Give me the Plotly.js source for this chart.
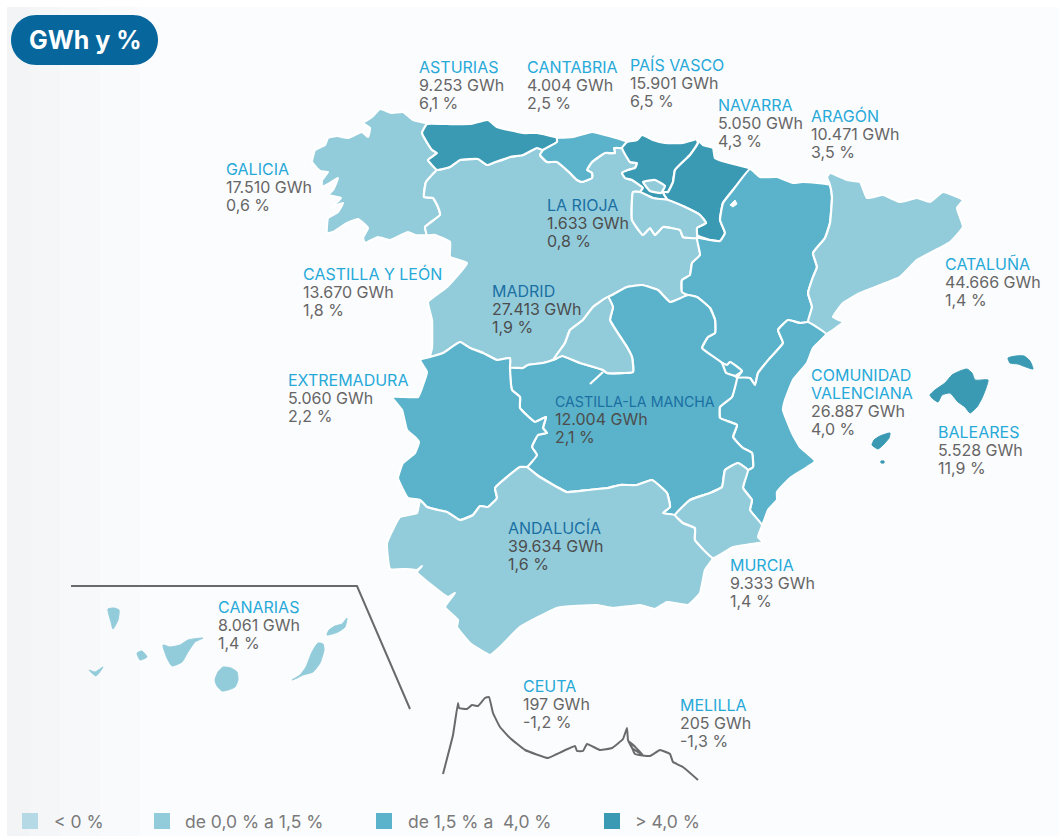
<!DOCTYPE html>
<html><head><meta charset="utf-8">
<script src="https://cdn.plot.ly/plotly-3.0.1.min.js"></script>
<style>html,body{margin:0;padding:0;background:#fff}</style></head>
<body><div id="chart" style="width:1059px;height:836px"></div>
<script>
const titleText = "GWh y %";
const regionNames = ["ASTURIAS","CANTABRIA","PAÍS VASCO","NAVARRA","ARAGÓN","GALICIA","LA RIOJA","CASTILLA Y LEÓN","MADRID","CATALUÑA","EXTREMADURA","COMUNIDAD<br>VALENCIANA","CASTILLA-LA MANCHA","BALEARES","ANDALUCÍA","MURCIA","CANARIAS","CEUTA","MELILLA"];
const gwhValues = ["9.253","4.004","15.901","5.050","10.471","17.510","1.633","13.670","27.413","44.666","5.060","26.887","12.004","5.528","39.634","9.333","8.061","197","205"];
const pctValues = ["6,1","2,5","6,5","4,3","3,5","0,6","0,8","1,8","1,9","1,4","2,2","4,0","2,1","11,9","1,6","1,4","1,4","-1,2","-1,3"];
const labelX = [418,526,629,717,810,225,546,302,491,944,287,810,554,937,507,729,217,522,679];
const labelY = [67,67,65,105,116,169,205,274,291,264,380,375,401,432,528,565,607,686,705];
const onMapLabel = [0,0,0,0,0,0,1,0,1,0,0,0,1,0,1,0,0,0,0];
const nameFontSizes = [16,16,16,16,16,16,16,16,16,16,16,16,14.2,16,16,16,16,16,16];
const legendLabels = ["< 0 %","de 0,0 % a 1,5 %","de 1,5 % a  4,0 %","> 4,0 %"];
const binColors = ["#b5d9e5","#92ccdb","#5ab3ca","#3a9ab3"];
const legendX = [30,162,384,612];
const legendTextX = [53,184,407,634];

const galicia = [[427,124],[413,120],[403,112],[392,113],[380,109],[372,117],[363,123],[370,128],[368,137],[362,132],[348,138],[337,136],[328,138],[325,145],[315,150],[312,162],[320,171],[328,172],[322,180],[322,187],[330,183],[338,178],[333,190],[328,195],[341,198],[332,207],[343,203],[338,212],[328,218],[327,233],[333,232],[347,223],[358,219],[368,228],[363,238],[365,243],[378,237],[390,240],[408,232],[415,235],[427,235],[425,227],[440,215],[438,207],[433,198],[424,197],[426,182],[437,170],[428,160],[437,153],[432,150],[422,133]];
const asturias = [[427,124],[447,124],[470,124],[488,120],[497,127],[523,133],[537,133],[557,138],[557,142],[543,150],[537,148],[523,155],[510,157],[493,163],[487,165],[478,159],[460,160],[450,167],[437,170],[428,160],[437,153],[432,150],[422,133]];
const cantabria = [[557,138],[573,137],[592,132],[605,135],[627,142],[622,148],[614,148],[615,153],[605,153],[592,162],[587,170],[592,173],[592,178],[582,182],[577,180],[570,173],[557,162],[547,162],[540,155],[543,150],[557,142]];
const castillaLeon = [[437,170],[450,167],[460,160],[478,159],[487,165],[493,163],[510,157],[523,155],[537,148],[543,150],[540,155],[547,162],[557,162],[570,173],[577,180],[582,182],[592,178],[592,173],[587,170],[592,162],[605,153],[615,153],[614,148],[622,148],[630,162],[637,163],[635,168],[628,170],[622,173],[625,178],[632,180],[643,188],[640,192],[633,192],[632,220],[643,235],[650,228],[655,235],[663,227],[680,230],[683,237],[697,238],[700,255],[692,263],[690,275],[682,280],[682,292],[688,295],[670,302],[658,290],[642,285],[627,287],[612,295],[608,297],[593,307],[583,320],[570,330],[565,343],[553,360],[543,363],[528,365],[523,368],[510,368],[510,358],[497,360],[483,353],[470,348],[460,342],[443,353],[430,357],[432,348],[432,320],[428,302],[447,287],[467,263],[450,257],[450,242],[435,235],[427,235],[425,227],[440,215],[438,207],[433,198],[424,197],[426,182]];
const paisVasco = [[627,142],[637,140],[642,135],[653,140],[665,143],[683,143],[697,139],[698,143],[690,155],[675,170],[673,182],[668,192],[663,192],[665,196],[668,200],[653,198],[640,192],[643,188],[632,180],[625,178],[622,173],[628,170],[635,168],[637,163],[630,162],[622,148]];
const trevino = [[643,182],[655,180],[665,186],[661,193],[650,191]];
const navarra = [[697,139],[703,145],[713,148],[715,158],[722,161],[750,169],[733,190],[723,203],[720,220],[725,233],[720,241],[710,240],[697,235],[697,228],[706,223],[700,215],[685,207],[668,200],[665,196],[663,192],[668,192],[673,182],[675,170],[690,155],[698,143]];
const rioja = [[633,192],[640,192],[653,198],[668,200],[685,207],[700,215],[706,223],[697,228],[697,238],[683,237],[680,230],[663,227],[655,235],[650,228],[643,235],[632,220]];
const aragon = [[750,169],[760,177],[777,177],[793,183],[803,182],[830,185],[832,197],[830,223],[825,238],[813,253],[817,267],[813,277],[808,293],[812,307],[808,322],[800,323],[788,320],[778,330],[783,343],[770,358],[758,373],[755,385],[750,378],[737,378],[742,371],[730,362],[727,365],[722,363],[702,348],[708,337],[715,333],[715,320],[710,308],[697,297],[688,295],[682,292],[682,280],[690,275],[692,263],[700,255],[697,238],[710,240],[720,241],[725,233],[720,220],[723,203],[733,190]];
const petilla = [[730,205],[735,200],[737,204],[733,207]];
const cataluna = [[830,185],[827,177],[830,173],[847,180],[860,182],[867,198],[883,195],[900,202],[917,198],[930,202],[943,192],[963,200],[957,208],[963,227],[950,242],[917,260],[900,277],[860,293],[843,303],[833,317],[843,322],[826,334],[808,322],[812,307],[808,293],[813,277],[817,267],[813,253],[825,238],[830,223],[832,197]];
const valencia = [[808,322],[826,334],[813,348],[807,363],[793,380],[785,400],[783,410],[792,433],[800,447],[815,461],[790,478],[777,492],[777,500],[768,510],[762,525],[750,510],[752,500],[743,488],[748,470],[753,467],[752,453],[743,448],[733,437],[737,425],[720,418],[720,407],[732,397],[737,378],[750,378],[755,385],[758,373],[770,358],[783,343],[778,330],[788,320],[800,323]];
const ademuz = [[722,363],[726,373],[735,376],[742,371],[730,362],[727,365]];
const madrid = [[608,297],[593,307],[583,320],[570,330],[565,343],[553,360],[562,356],[580,363],[603,370],[607,373],[633,372],[632,357],[627,347],[610,320],[613,307]];
const castillaMancha = [[510,368],[523,368],[528,365],[543,363],[553,360],[562,356],[580,363],[603,370],[607,373],[633,372],[632,357],[627,347],[610,320],[613,307],[608,297],[612,295],[627,287],[642,285],[658,290],[670,302],[688,295],[697,297],[710,308],[715,320],[715,333],[708,337],[702,348],[722,363],[726,373],[735,376],[737,378],[732,397],[720,407],[720,418],[737,425],[733,437],[743,448],[752,453],[753,467],[748,470],[738,463],[725,470],[722,487],[710,493],[690,500],[675,515],[663,513],[670,507],[667,493],[652,480],[637,485],[620,485],[608,488],[588,490],[567,492],[550,483],[537,475],[527,467],[537,455],[532,447],[538,435],[547,433],[543,428],[546,417],[535,422],[520,408],[520,397],[512,390]];
const toledoSpur = [[603,372],[590,384]];
const extremadura = [[510,358],[497,360],[483,353],[470,348],[460,342],[443,353],[430,357],[420,360],[427,372],[423,385],[418,397],[392,397],[402,410],[407,430],[415,437],[419,442],[415,453],[403,463],[398,478],[408,498],[420,500],[427,507],[438,510],[447,512],[460,520],[473,515],[480,506],[488,507],[497,498],[495,488],[507,477],[520,467],[527,467],[537,455],[532,447],[538,435],[547,433],[543,428],[546,417],[535,422],[520,408],[520,397],[512,390],[510,368]];
const murcia = [[748,470],[738,463],[725,470],[722,487],[710,493],[690,500],[675,515],[683,523],[695,528],[695,540],[713,558],[733,547],[763,542],[758,537],[762,525],[750,510],[752,500],[743,488]];
const andalucia = [[420,500],[417,513],[400,517],[387,543],[390,569],[407,569],[417,570],[422,566],[417,572],[448,597],[455,593],[445,607],[458,620],[457,627],[470,643],[490,655],[500,647],[520,627],[557,608],[597,605],[613,608],[640,605],[655,609],[667,602],[688,605],[700,593],[705,570],[713,558],[695,540],[695,528],[683,523],[675,515],[663,513],[670,507],[667,493],[652,480],[637,485],[620,485],[608,488],[588,490],[567,492],[550,483],[537,475],[527,467],[520,467],[507,477],[495,488],[497,498],[488,507],[480,506],[473,515],[460,520],[447,512],[438,510],[427,507]];
const mallorca = [[930,395],[935,390],[945,383],[952,375],[960,371],[967,369],[972,373],[975,380],[988,380],[986,388],[982,398],[977,407],[970,413],[965,407],[958,402],[950,393],[942,395],[938,402],[932,398]];
const menorca = [[1008,358],[1016,356],[1024,356],[1030,361],[1033,369],[1026,367],[1018,364],[1010,363]];
const ibiza = [[872,445],[874,440],[880,436],[890,433],[889,438],[884,444],[878,449]];
const formentera = [[881,461],[884,461],[884,463],[881,463]];
const laPalma = [[108,609],[114,608],[119,610],[118,620],[113,629],[111,622],[109,615]];
const gomera = [[137,653],[142,651],[147,657],[140,660]];
const hierro = [[89,670],[95,672],[103,667],[96,676]];
const tenerife = [[163,645],[170,647],[180,645],[188,640],[203,638],[195,642],[188,652],[182,662],[172,666],[167,658]];
const granCanaria = [[223,667],[231,668],[237,672],[238,680],[235,687],[228,690],[222,691],[217,686],[215,680],[218,672]];
const fuerteventura = [[318,643],[323,644],[324,650],[320,663],[313,672],[303,675],[297,678],[292,680],[300,675],[306,667],[312,652]];
const lanzarote = [[327,635],[329,630],[335,626],[342,624],[347,618],[345,627],[338,632]];
const canaryFrame = [[71,586],[357,586],[410,709]];
const africaCoast = [[443,774],[453,735],[458,703],[459,708],[467,709],[472,705],[478,706],[485,698],[489,697],[493,713],[500,727],[510,738],[525,750],[548,758],[557,754],[575,746],[577,751],[583,751],[587,744],[600,750],[612,748],[623,739],[627,728],[628,740],[632,748],[643,755],[630,742],[635,754],[650,756],[660,750],[670,754],[673,762],[683,767],[698,780]];

const mapPolys = [
  [galicia,1],[castillaLeon,1],[asturias,3],[cantabria,2],[paisVasco,3],[navarra,3],[rioja,1],[trevino,1],
  [aragon,2],[cataluna,1],[valencia,2],[ademuz,2],[castillaMancha,2],[madrid,1],[extremadura,2],[andalucia,1],[murcia,1]
];
const islandPolys = [[mallorca,3],[menorca,3],[ibiza,3],[formentera,3],[laPalma,1],[gomera,1],[hierro,1],[tenerife,1],[granCanaria,1],[fuerteventura,1],[lanzarote,1]];
const xs = p => p.map(d => d[0]), ys = p => p.map(d => d[1]);
const closed = p => p.concat([p[0]]);
const traces = [];
mapPolys.forEach(([p,b]) => traces.push({type:'scatter',mode:'lines',x:xs(closed(p)),y:ys(closed(p)),fill:'toself',fillcolor:binColors[b],line:{color:'#ffffff',width:2.2,shape:'spline',smoothing:0.35},hoverinfo:'skip',showlegend:false}));
islandPolys.forEach(([p,b]) => traces.push({type:'scatter',mode:'lines',x:xs(closed(p)),y:ys(closed(p)),fill:'toself',fillcolor:binColors[b],line:{color:binColors[b],width:1,shape:'spline',smoothing:0.5},hoverinfo:'skip',showlegend:false}));
traces.push({type:'scatter',mode:'lines',x:xs(toledoSpur),y:ys(toledoSpur),line:{color:'#fff',width:2.2},hoverinfo:'skip',showlegend:false});
traces.push({type:'scatter',mode:'lines',x:xs(closed(petilla)),y:ys(closed(petilla)),fill:'toself',fillcolor:'#ffffff',line:{color:'#fff',width:1},hoverinfo:'skip',showlegend:false});
traces.push({type:'scatter',mode:'lines',x:xs(canaryFrame),y:ys(canaryFrame),line:{color:'#6a6a6a',width:2},hoverinfo:'skip',showlegend:false});
traces.push({type:'scatter',mode:'lines',x:xs(africaCoast),y:ys(africaCoast),line:{color:'#6a6a6a',width:2,shape:'spline',smoothing:0.3},hoverinfo:'skip',showlegend:false});
traces.push({type:'scatter',mode:'markers',x:legendX,y:legendX.map(()=>821),marker:{symbol:'square',size:16,color:binColors},hoverinfo:'skip',showlegend:false});

const F = "Inter, 'Open Sans', sans-serif";
const ann = [];
const lineH = 18;
regionNames.forEach((n,i) => {
  const parts = n.split('<br>');
  const dark = onMapLabel[i];
  const nameColor = dark ? '#1a6fa3' : '#27a9d8';
  parts.forEach((t,k) => ann.push({x:labelX[i],y:labelY[i]+k*lineH,text:t,font:{family:F,size:nameFontSizes[i],color:nameColor}}));
  const nameCount = parts.length;
  ann.push({x:labelX[i],y:labelY[i]+nameCount*lineH,text:gwhValues[i]+' GWh',font:{family:F,size:16,color:dark?'#4d4d4d':'#666'}});
  ann.push({x:labelX[i],y:labelY[i]+(nameCount+1)*lineH,text:pctValues[i]+' %',font:{family:F,size:16,color:dark?'#4d4d4d':'#666'}});
});
legendLabels.forEach((t,i) => ann.push({x:legendTextX[i],y:821,text:t,font:{family:F,size:17.5,color:'#7a7a7a'}}));
ann.forEach(a => {a.xref='x';a.yref='y';a.xanchor='left';a.yanchor='middle';a.showarrow=false;a.align='left';a.borderpad=0;});
ann.push({x:85,y:40,xref:'x',yref:'y',xanchor:'center',yanchor:'middle',showarrow:false,text:'<b>'+titleText+'</b>',font:{family:F,size:25,color:'#ffffff'}});

const bgStrips = [[7,30,'#f3f4f6'],[30,60,'#f5f6f8'],[60,100,'#f7f8fa'],[100,140,'#f9fafc'],[140,1059,'#fbfcfe']];
const shapes = bgStrips.map(s => ({type:'rect',layer:'below',xref:'x',yref:'y',x0:s[0],x1:s[1],y0:7,y1:836,fillcolor:s[2],line:{width:0}}));
shapes.push({type:'path',layer:'above',xref:'x',yref:'y',path:'M 36 15 L 133 15 C 147 15 158 26 158 40 C 158 54 147 65 133 65 L 36 65 C 22 65 11 54 11 40 C 11 26 22 15 36 15 Z',fillcolor:'#07669c',line:{width:0}});

Plotly.newPlot('chart',traces,{
  width:1059,height:836,margin:{l:0,r:0,t:0,b:0},
  paper_bgcolor:'#ffffff',plot_bgcolor:'#ffffff',
  xaxis:{range:[0,1059],visible:false,fixedrange:true},
  yaxis:{range:[836,0],visible:false,fixedrange:true},
  showlegend:false,annotations:ann,shapes:shapes
},{displayModeBar:false,staticPlot:true});
</script></body></html>
